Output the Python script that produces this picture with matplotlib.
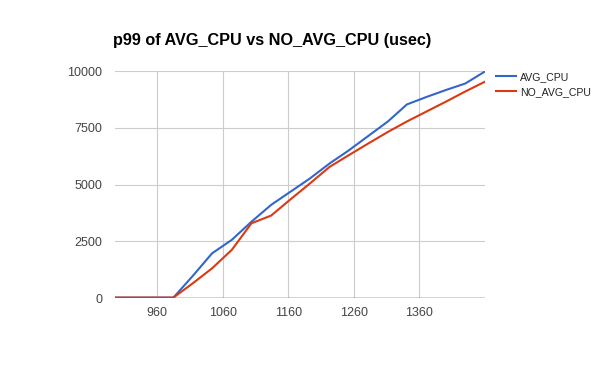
#!/usr/bin/env python3
"""p99 latency of AVG_CPU vs NO_AVG_CPU, Google-Charts look."""

import matplotlib

matplotlib.use("Agg")
import matplotlib.pyplot as plt

LOAD = [896, 926, 955, 985, 1015, 1044, 1074, 1104, 1134, 1163,
        1193, 1223, 1252, 1282, 1312, 1341, 1371, 1401, 1430, 1460]
AVG_CPU = [30, 30, 30, 30, 1000, 1980, 2570, 3370, 4110, 4680,
           5270, 5930, 6500, 7140, 7780, 8530, 8860, 9170, 9450, 9980]
NO_AVG_CPU = [30, 30, 30, 30, 670, 1320, 2130, 3300, 3640, 4340,
              5050, 5780, 6290, 6810, 7320, 7780, 8220, 8660, 9100, 9530]
X_TICKS = [960, 1060, 1160, 1260, 1360]
Y_TICKS = [0, 2500, 5000, 7500, 10000]
TITLE = "p99 of AVG_CPU vs NO_AVG_CPU (usec)"

BLUE = "#3366cc"
RED = "#dc3912"
GRID = "#cccccc"
TEXT = "#444444"

plt.rcParams["font.family"] = ["Liberation Sans", "DejaVu Sans"]


def plot(output):
    fig = plt.figure(figsize=(6, 3.71), dpi=100)
    ax = fig.add_axes([0.1917, 0.196, 0.6166, 0.6126])

    ax.plot(LOAD, AVG_CPU, color=BLUE, linewidth=1.5, label="AVG_CPU", zorder=3)
    ax.plot(LOAD, NO_AVG_CPU, color=RED, linewidth=1.5, label="NO_AVG_CPU", zorder=3)

    ax.set_xlim(LOAD[0], LOAD[-1])
    ax.set_ylim(0, 10000)
    ax.set_xticks(X_TICKS)
    ax.set_yticks(Y_TICKS)
    ax.grid(color=GRID, linewidth=0.8)
    ax.set_axisbelow(True)
    ax.axhline(0, color="#333333", linewidth=1.0, zorder=2)
    for spine in ax.spines.values():
        spine.set_visible(False)
    ax.tick_params(axis="both", length=0, labelsize=9, labelcolor=TEXT)
    ax.tick_params(axis="y", pad=9)
    ax.tick_params(axis="x", pad=6)

    fig.text(113 / 600, 1 - 41 / 371, TITLE, fontsize=11.7, fontweight="bold",
             ha="left", va="center", color="black")

    ax.legend(loc="upper left", bbox_to_anchor=(1.0, 1.042), frameon=False,
              fontsize=7.6, handlelength=1.9, handletextpad=0.4,
              labelspacing=0.45, borderaxespad=0.6, labelcolor="#222222")

    fig.savefig(output, dpi=100, facecolor="white")
    plt.close(fig)


if __name__ == "__main__":
    plot("out.png")
